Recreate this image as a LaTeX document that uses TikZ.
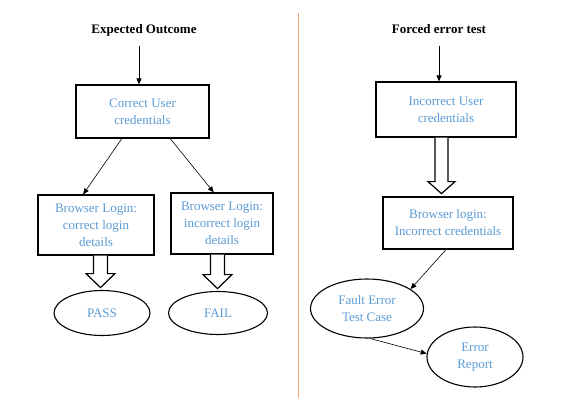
\documentclass[tikz,border=0pt]{standalone}
\usepackage{fontspec}
\setmainfont{Liberation Serif}
\usetikzlibrary{arrows.meta,calc,shapes.geometric}
\definecolor{txtblue}{RGB}{91,155,213}
\definecolor{divline}{RGB}{242,165,118}
\tikzset{
  boxnode/.style={draw=black,line width=1.2pt,fill=white,inner sep=0pt,align=center,
    text=txtblue,font=\fontsize{13}{17}\selectfont},
  ellnode/.style={ellipse,draw=black,line width=1.1pt,inner sep=0pt,align=center,
    text=txtblue,font=\fontsize{13}{17}\selectfont},
  titlenode/.style={font=\fontsize{13}{16}\selectfont\bfseries,text=black},
  conn/.style={line width=0.6pt,-{Triangle[length=6pt,width=5pt]}},
  blockline/.style={draw=black,line width=1.2pt,fill=white,line join=miter}
}
% #1 anchor, #2 shaft half width, #3 shaft length, #4 head half width, #5 total length
\newcommand\blockarrow[5]{%
  \draw[blockline] ($(#1)+(-#2,0)$) -- ++(0,#3) -- ++(#2-#4,0) -- ($(#1)+(0,#5)$)
    -- ($(#1)+(#4,#3)$) -- ++(#2-#4,0) -- ($(#1)+(#2,0)$);}
\begin{document}
\begin{tikzpicture}[x=1pt,y=-1pt]
\useasboundingbox (0,0) rectangle (574,405);
% divider
\draw[divline,line width=0.8pt] (298,13) -- (298,398);
% left side
\node[titlenode] (t1) at (144,30) {Expected Outcome};
\coordinate (a1) at (139,46);
\node[boxnode,minimum width=133pt,minimum height=53pt] (cu) at (142.5,111.5) {Correct User\\credentials};
\node[boxnode,minimum width=116pt,minimum height=60pt] (bl1) at (96,225) {Browser Login:\\correct login\\details};
\node[boxnode,minimum width=102pt,minimum height=61pt] (bl2) at (222,223.5) {Browser Login:\\incorrect login\\details};
\node[ellnode,minimum width=96pt,minimum height=45pt] (pass) at (102,313) {PASS};
\node[ellnode,minimum width=99pt,minimum height=43pt] (fail) at (218,313) {FAIL};
\draw[conn] (a1) -- (a1 |- cu.north);
\draw[conn] ($(cu.south west)!0.346!(cu.south east)$) -- ($(bl1.north west)!0.39!(bl1.north east)$);
\draw[conn] ($(cu.south west)!0.707!(cu.south east)$) -- ($(bl2.north west)!0.42!(bl2.north east)$);
\coordinate (b1) at ($(bl1.south)+(4.5,0)$);
\coordinate (b2) at ($(bl2.south)+(-4.5,0)$);
\blockarrow{b1}{7}{18}{14.5}{32}
\blockarrow{b2}{7}{20}{14.5}{34}
% right side
\node[titlenode] (t2) at (439,29) {Forced error test};
\coordinate (a2) at (439,46);
\node[boxnode,minimum width=140pt,minimum height=55pt] (iu) at (446,109.5) {Incorrect User\\credentials};
\node[boxnode,minimum width=130pt,minimum height=52pt] (bli) at (448,223) {Browser login:\\Incorrect credentials};
\node[ellnode,minimum width=113pt,minimum height=59pt] (fault) at (367,308.5) {Fault Error\\Test Case};
\node[ellnode,minimum width=96pt,minimum height=60pt] (err) at (475,357) {Error\\Report};
\draw[conn] (a2) -- (a2 |- iu.north);
\coordinate (b3) at ($(iu.south)+(-4.5,0)$);
\blockarrow{b3}{6.5}{44}{13.5}{56}
\draw[conn] ($(bli.south west)!0.485!(bli.south east)$) -- (fault.24);
\draw[conn] (fault.-84) -- (err.176);
\end{tikzpicture}
\end{document}
